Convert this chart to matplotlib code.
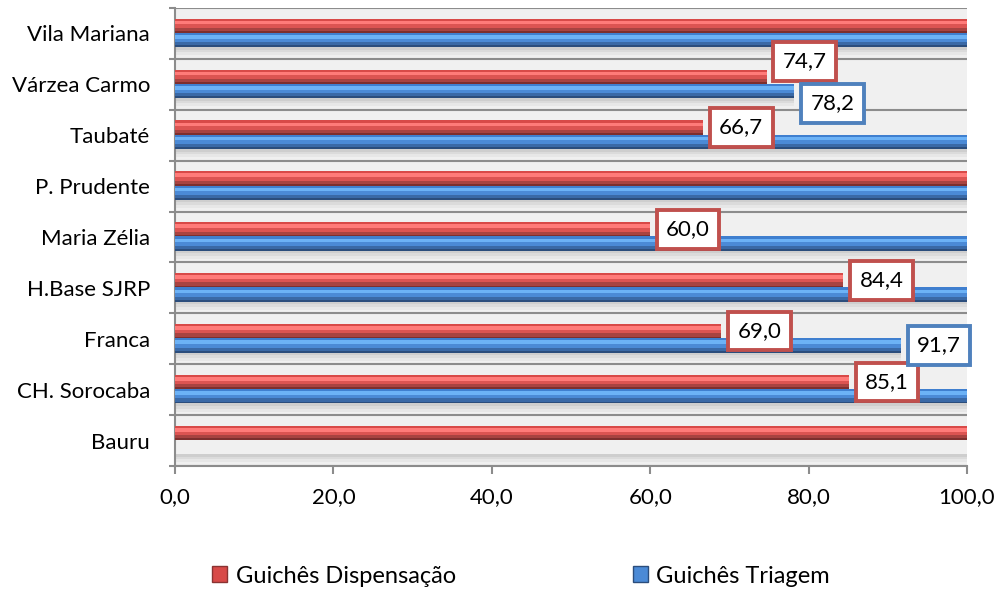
import matplotlib.pyplot as plt
from matplotlib.patches import Patch
from matplotlib.ticker import FixedLocator, FuncFormatter

# unidades, de baixo para cima
unidades = ['Bauru', 'CH. Sorocaba', 'Franca', 'H.Base SJRP', 'Maria Zélia',
            'P. Prudente', 'Taubaté', 'Várzea Carmo', 'Vila Mariana']
dispensacao = [100.0, 85.1, 69.0, 84.4, 60.0, 100.0, 66.7, 74.7, 100.0]
triagem = [0.0, 100.0, 91.7, 100.0, 100.0, 100.0, 100.0, 78.2, 100.0]

plt.rcParams['font.family'] = ['Lato', 'DejaVu Sans']

VERMELHO = '#c0504d'
AZUL = '#4f81bd'

# faixas de cor de cada barra (fração inferior, fração superior, cor) p/ efeito 3D
faixas_verm = [(0.00, 0.12, '#7d2f2e'), (0.12, 0.35, '#a84341'), (0.35, 0.60, '#dc5452'),
               (0.60, 0.85, '#ff7b79'), (0.85, 1.00, '#d84a48')]
faixas_azul = [(0.00, 0.12, '#2b4d7c'), (0.12, 0.35, '#3a69a6'), (0.35, 0.60, '#4b8ad6'),
               (0.60, 0.85, '#6cb2f6'), (0.85, 1.00, '#3f7fcf')]

fig = plt.figure(figsize=(10, 5.92), dpi=100)
ax = fig.add_axes([0.175, 0.2128, 0.792, 0.7737])
ax.set_facecolor('#f0f0f0')

h = 0.28
pos = list(range(len(unidades)))
y_verm = [p + 0.15 for p in pos]
y_azul = [p - 0.13 for p in pos]


def barra_3d(ys, valores, faixas):
    for f1, f2, cor in faixas:
        ax.barh([y - h / 2 + h * (f1 + f2) / 2 for y in ys], valores,
                height=h * (f2 - f1), color=cor, linewidth=0, zorder=3)


# sombra debaixo de cada par de barras
for s1, s2, a in [(0.0, 0.05, 0.30), (0.05, 0.10, 0.18), (0.10, 0.16, 0.08)]:
    ax.barh([y - h / 2 - (s1 + s2) / 2 for y in y_azul],
            [max(d, t) for d, t in zip(dispensacao, triagem)],
            height=s2 - s1, color='#808080', alpha=a, linewidth=0, zorder=2)

barra_3d(y_verm, dispensacao, faixas_verm)
barra_3d(y_azul, triagem, faixas_azul)

# rótulos só para os valores abaixo de 100
desloc = {7: (11, -9)}
for i in pos:
    dv, db = desloc.get(i, (0, 0))
    if dispensacao[i] < 100:
        ax.annotate(f'{dispensacao[i]:.1f}'.replace('.', ','), (dispensacao[i], y_verm[i]),
                    xytext=(11.5, dv), textcoords='offset points', ha='left', va='center',
                    fontsize=16, zorder=5,
                    bbox=dict(boxstyle='square,pad=0.42', fc='white', ec=VERMELHO, lw=2.8))
    if 0 < triagem[i] < 100:
        ax.annotate(f'{triagem[i]:.1f}'.replace('.', ','), (triagem[i], y_azul[i]),
                    xytext=(11.5, db), textcoords='offset points', ha='left', va='center',
                    fontsize=16, zorder=5,
                    bbox=dict(boxstyle='square,pad=0.42', fc='white', ec=AZUL, lw=2.8))

ax.set_xlim(0, 100)
ax.set_ylim(-0.5, len(unidades) - 0.5)

ax.set_yticks(pos)
ax.set_yticklabels(unidades, fontsize=16)
ax.yaxis.set_minor_locator(FixedLocator([p - 0.5 for p in range(len(unidades) + 1)]))
ax.tick_params(axis='y', which='major', length=0, pad=18)
ax.tick_params(axis='y', which='minor', length=4, color='#8c8c8c', width=1.5)

ax.set_xticks([0, 20, 40, 60, 80, 100])
ax.xaxis.set_major_formatter(FuncFormatter(lambda v, p: f'{v:.1f}'.replace('.', ',')))
ax.tick_params(axis='x', length=6, color='#8c8c8c', width=1.5, labelsize=16, pad=9)

for p in range(len(unidades) + 1):
    ax.axhline(p - 0.5, color='#8c8c8c', lw=1.5, zorder=1)

for lado in ['top', 'right']:
    ax.spines[lado].set_visible(False)
for lado in ['left', 'bottom']:
    ax.spines[lado].set_color('#8c8c8c')
    ax.spines[lado].set_linewidth(1.5)

handles = [Patch(facecolor='#d84a48', edgecolor='#8a3332', label='Guichês Dispensação'),
           Patch(facecolor='#4b8ad6', edgecolor='#2b4d7c', label='Guichês Triagem')]
fig.legend(handles=handles, loc='center', bbox_to_anchor=(0.521, 0.027), ncol=2,
           frameon=False, fontsize=17, handlelength=0.65, handleheight=0.65,
           handletextpad=0.35, columnspacing=7.5)

fig.savefig('out.png', dpi=100)
